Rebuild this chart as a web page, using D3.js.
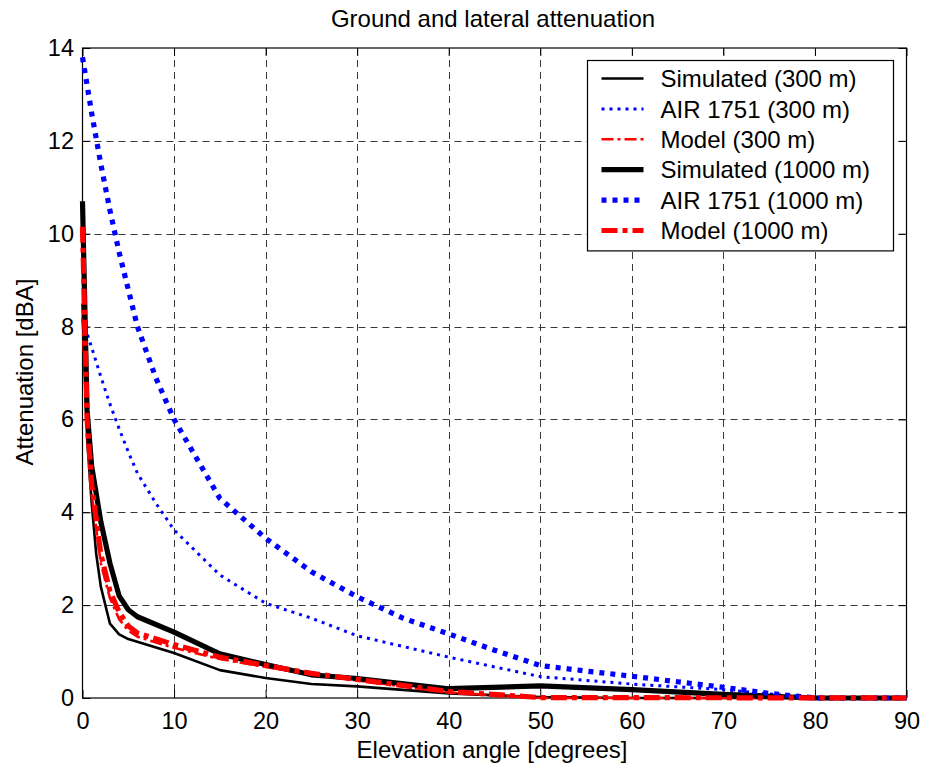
<!DOCTYPE html>
<html>
<head>
<meta charset="utf-8">
<script src="https://cdn.jsdelivr.net/npm/d3@7"></script>
<style>
  html, body { margin: 0; padding: 0; background: #fff; }
  svg { display: block; font-family: Arial, "Liberation Sans", sans-serif; }
</style>
</head>
<body>
<svg id="chart" width="925" height="767"></svg>
<script>
// Elevation angle ticks [degrees] and attenuation ticks [dBA]
const xTicks = [0, 10, 20, 30, 40, 50, 60, 70, 80, 90];
const yTicks = [0, 2, 4, 6, 8, 10, 12, 14];

// Elevation angles [degrees] at which each curve is sampled
const simAngles300 = [0, 0.5, 1, 1.5, 2, 3, 4, 5, 10, 15, 20, 25, 30, 40, 50, 60, 90];
const simValues300 = [8.5, 5.6, 4.2, 3.1, 2.4, 1.6, 1.37, 1.27, 0.97, 0.6, 0.43, 0.3, 0.25, 0.1, 0.02, 0, 0];

const airAngles300 = [0, 1, 2, 3, 4, 5, 6, 8, 10, 15, 20, 25, 30, 40, 50, 60, 70, 80, 90];
const airValues300 = [8.15, 7.55, 6.92, 6.33, 5.8, 5.3, 4.84, 4.2, 3.62, 2.65, 2.04, 1.72, 1.34, 0.88, 0.46, 0.3, 0.18, 0, 0];

const modelAngles300 = [0, 0.5, 1, 2, 3, 4, 5, 6, 10, 15, 20, 25, 30, 40, 50, 90];
const modelValues300 = [8.2, 5.8, 4.4, 2.9, 2.15, 1.7, 1.45, 1.32, 1.08, 0.84, 0.67, 0.5, 0.38, 0.12, 0, 0];

const simAngles1000 = [0, 0.5, 1, 2, 3, 4, 5, 6, 10, 15, 20, 25, 30, 40, 50, 60, 70, 80, 90];
const simValues1000 = [10.7, 6.2, 5.0, 3.8, 2.9, 2.2, 1.9, 1.75, 1.42, 0.95, 0.72, 0.5, 0.42, 0.2, 0.26, 0.18, 0.08, 0, 0];

const airAngles1000 = [0, 1, 2, 3, 4, 5, 6, 8, 10, 15, 20, 25, 30, 35, 40, 45, 50, 55, 60, 65, 70, 75, 80, 90];
const airValues1000 = [13.8, 12.6, 11.5, 10.5, 9.6, 8.8, 8.0, 6.9, 6.0, 4.3, 3.44, 2.72, 2.18, 1.72, 1.38, 1.03, 0.7, 0.58, 0.47, 0.35, 0.23, 0.1, 0, 0];

const modelAngles1000 = [0, 0.5, 1, 2, 3, 4, 5, 6, 10, 15, 20, 25, 30, 40, 50, 90];
const modelValues1000 = [10.15, 6.0, 4.6, 3.1, 2.3, 1.85, 1.55, 1.4, 1.15, 0.88, 0.7, 0.53, 0.4, 0.14, 0.01, 0];

const seriesNames = [
  "Simulated (300 m)", "AIR 1751 (300 m)", "Model (300 m)",
  "Simulated (1000 m)", "AIR 1751 (1000 m)", "Model (1000 m)"
];

// Line styles for each series, in plotting order
const styles = [
  { color: "#000000", width: 2.6, dash: null },
  { color: "#0000ff", width: 3,   dash: "3,5" },
  { color: "#ff0000", width: 2.6, dash: "12,4,3,4" },
  { color: "#000000", width: 5.2, dash: null },
  { color: "#0000ff", width: 5.2, dash: "5,6" },
  { color: "#ff0000", width: 5.2, dash: "16,5,5,5" }
];

const series = [
  [simAngles300, simValues300],
  [airAngles300, airValues300],
  [modelAngles300, modelValues300],
  [simAngles1000, simValues1000],
  [airAngles1000, airValues1000],
  [modelAngles1000, modelValues1000]
].map(([a, v], i) => ({
  name: seriesNames[i],
  style: styles[i],
  points: a.map((ang, k) => ({ x: ang, y: v[k] }))
}));

const svg = d3.select("#chart");
const plotLeft = 82.5, plotRight = 906.5, plotTop = 48, plotBottom = 698;

const x = d3.scaleLinear().domain([0, 90]).range([plotLeft, plotRight]);
const y = d3.scaleLinear().domain([0, 14]).range([plotBottom, plotTop]);

// Dashed grid
const grid = svg.append("g").attr("stroke", "#3a3a3a").attr("stroke-width", 1)
  .attr("stroke-dasharray", "7,5").attr("fill", "none");
grid.selectAll("line.gx").data(xTicks.slice(1, -1)).join("line").attr("class", "gx")
  .attr("x1", d => Math.round(x(d)) + 0.5).attr("x2", d => Math.round(x(d)) + 0.5)
  .attr("y1", plotTop).attr("y2", plotBottom);
grid.selectAll("line.gy").data(yTicks.slice(1, -1)).join("line").attr("class", "gy")
  .attr("y1", d => Math.round(y(d)) + 0.5).attr("y2", d => Math.round(y(d)) + 0.5)
  .attr("x1", plotLeft).attr("x2", plotRight);

// Axes with inward ticks on all four sides
const tickLen = 8;
const fontSize = 23.5;
const gx = svg.append("g").attr("transform", `translate(0,${plotBottom})`)
  .call(d3.axisBottom(x).tickValues(xTicks).tickSize(-tickLen).tickSizeOuter(0).tickPadding(14));
const gy = svg.append("g").attr("transform", `translate(${plotLeft},0)`)
  .call(d3.axisLeft(y).tickValues(yTicks).tickSize(-tickLen).tickSizeOuter(0).tickPadding(8.5));
const gt = svg.append("g").attr("transform", `translate(0,${plotTop})`)
  .call(d3.axisTop(x).tickValues(xTicks).tickSize(-tickLen).tickSizeOuter(0).tickFormat(""));
const gr = svg.append("g").attr("transform", `translate(${plotRight},0)`)
  .call(d3.axisRight(y).tickValues(yTicks).tickSize(-tickLen).tickSizeOuter(0).tickFormat(""));

[gx, gy, gt, gr].forEach(g => {
  g.select(".domain").remove();
  g.selectAll(".tick line").attr("stroke", "#000").attr("stroke-width", 1);
  g.selectAll(".tick text").attr("fill", "#000")
    .style("font-size", fontSize + "px").style("font-family", "Arial, 'Liberation Sans', sans-serif");
});

// Axes box
svg.append("rect")
  .attr("x", plotLeft).attr("y", plotTop).attr("width", plotRight - plotLeft).attr("height", plotBottom - plotTop)
  .attr("fill", "none").attr("stroke", "#000").attr("stroke-width", 1.2);

// Curves
const line = d3.line().x(d => x(d.x)).y(d => y(d.y)).curve(d3.curveLinear);
svg.append("g").selectAll("path").data(series).join("path")
  .attr("d", d => line(d.points))
  .attr("fill", "none")
  .attr("stroke", d => d.style.color)
  .attr("stroke-width", d => d.style.width)
  .attr("stroke-dasharray", d => d.style.dash)
  .attr("stroke-linejoin", "round");

// Legend
const legX = 587.5, legY = 60.5, legW = 306, rowH = 30.4;
const legend = svg.append("g");
legend.append("rect")
  .attr("x", legX).attr("y", legY).attr("width", legW).attr("height", 6 * rowH + 8)
  .attr("fill", "#fff").attr("stroke", "#000").attr("stroke-width", 1.2);
const rows = legend.selectAll("g.row").data(series).join("g").attr("class", "row")
  .attr("transform", (d, i) => `translate(0,${legY + 18 + i * rowH})`);
rows.append("line")
  .attr("x1", legX + 14).attr("x2", legX + 56).attr("y1", 0).attr("y2", 0)
  .attr("stroke", d => d.style.color)
  .attr("stroke-width", d => d.style.width)
  .attr("stroke-dasharray", d => d.style.dash);
rows.append("text")
  .attr("x", legX + 73).attr("y", 0).attr("dy", "0.36em")
  .style("font-size", "24px").attr("fill", "#000")
  .text(d => d.name);

// Title and axis labels
svg.append("text").attr("x", 493).attr("y", 27).attr("text-anchor", "middle")
  .style("font-size", "24px").text("Ground and lateral attenuation");
svg.append("text").attr("x", 492).attr("y", 758).attr("text-anchor", "middle")
  .style("font-size", "24px").text("Elevation angle [degrees]");
svg.append("text").attr("transform", "translate(32.5,372) rotate(-90)")
  .attr("text-anchor", "middle").style("font-size", "24px").text("Attenuation [dBA]");
</script>
</body>
</html>
